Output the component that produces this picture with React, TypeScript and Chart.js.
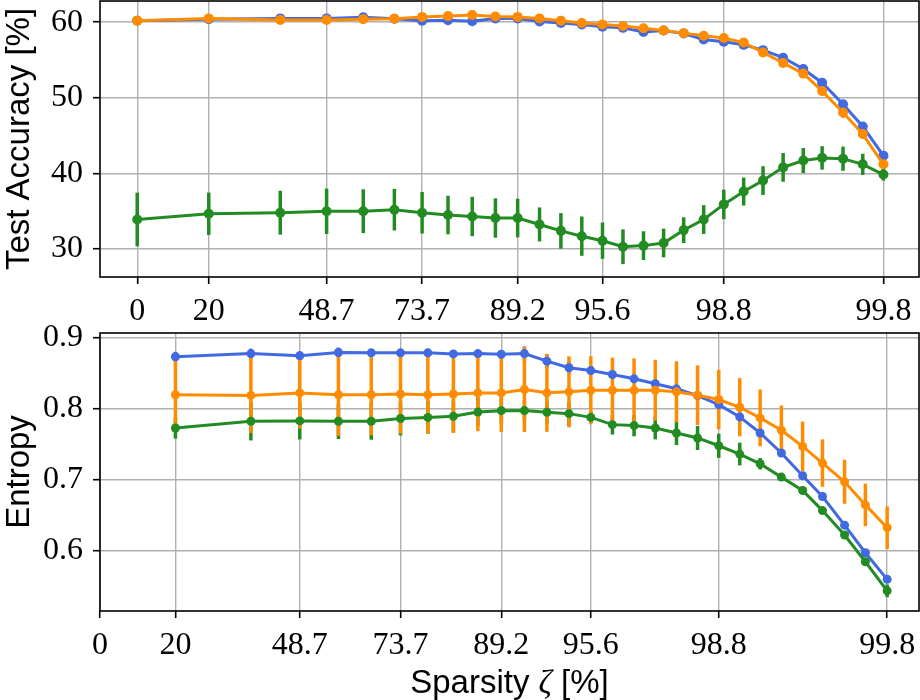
import { useEffect, useRef } from 'react';
import { Chart, registerables, LinearScale } from 'chart.js';

Chart.register(...registerables);

// sparsity after each pruning round (%), one entry per point
const sparsity = [0, 20, 36, 48.75, 59.04, 67.23, 73.75, 79.03, 83.22, 86.58, 89.25, 91.41, 93.13, 94.5, 95.6, 96.48, 97.19, 97.75, 98.2, 98.56, 98.85, 99.08, 99.26, 99.41, 99.53, 99.62, 99.7, 99.76, 99.81];
const xTickIdx = [0, 1, 3, 6, 10, 14, 20, 28];
const xTickLabels = ['0', '20', '48.7', '73.7', '89.2', '95.6', '98.8', '99.8'];

// test accuracy [%]
const accBlue = [60.2, 60.4, 60.5, 60.5, 60.66, 60.45, 60.2, 60.26, 60.13, 60.5, 60.5, 60.1, 59.9, 59.7, 59.4, 59.25, 58.7, 58.9, 58.5, 57.7, 57.4, 57.0, 56.3, 55.3, 53.8, 52.0, 49.15, 46.2, 42.35];
const accBlueErr = [0.2, 0.2, 0.2, 0.2, 0.2, 0.2, 0.2, 0.2, 0.2, 0.2, 0.2, 0.2, 0.2, 0.2, 0.2, 0.2, 0.2, 0.2, 0.2, 0.2, 0.2, 0.2, 0.2, 0.3, 0.3, 0.3, 0.3, 0.4, 0.4];
const accOrange = [60.2, 60.5, 60.3, 60.3, 60.4, 60.45, 60.7, 60.8, 60.96, 60.75, 60.7, 60.5, 60.2, 59.9, 59.7, 59.5, 59.2, 58.9, 58.55, 58.2, 57.9, 57.3, 56.0, 54.6, 53.2, 50.9, 48.05, 45.2, 41.2];
const accOrangeErr = [0.2, 0.2, 0.2, 0.2, 0.2, 0.2, 0.2, 0.2, 0.2, 0.2, 0.2, 0.2, 0.2, 0.2, 0.2, 0.2, 0.2, 0.2, 0.2, 0.3, 0.3, 0.3, 0.3, 0.4, 0.4, 0.6, 0.7, 0.6, 0.5];
const accGreen = [33.9, 34.66, 34.8, 35.0, 35.0, 35.2, 34.8, 34.5, 34.3, 34.1, 34.1, 33.25, 32.4, 31.7, 31.1, 30.3, 30.45, 30.8, 32.5, 33.9, 35.9, 37.6, 39.05, 40.8, 41.7, 42.05, 41.95, 41.2, 39.85];
const accGreenErr = [3.55, 2.8, 2.9, 3.0, 2.9, 2.75, 2.75, 2.55, 2.6, 2.6, 2.55, 2.25, 2.35, 2.6, 2.4, 2.3, 1.9, 1.9, 1.7, 1.9, 1.95, 1.85, 1.9, 1.9, 1.65, 1.55, 1.6, 1.4, 0.8];
const accTicks = [30, 40, 50, 60];

// entropy (no value for the dense model)
const entBlue = [null, 0.8735, 0.878, 0.875, 0.8795, 0.879, 0.879, 0.879, 0.8775, 0.878, 0.877, 0.878, 0.8673, 0.858, 0.854, 0.8485, 0.8424, 0.8354, 0.8283, 0.8188, 0.806, 0.7887, 0.766, 0.7378, 0.7057, 0.6764, 0.636, 0.5972, 0.5596];
const entBlueErr = [null, 0.007, 0.007, 0.006, 0.007, 0.005, 0.004, 0.004, 0.004, 0.004, 0.004, 0.01, 0.01, 0.008, 0.006, 0.005, 0.004, 0.004, 0.004, 0.004, 0.004, 0.004, 0.004, 0.004, 0.004, 0.003, 0.004, 0.004, 0.005];
const entOrange = [null, 0.82, 0.819, 0.8225, 0.82, 0.82, 0.821, 0.82, 0.821, 0.8225, 0.8225, 0.8273, 0.8226, 0.824, 0.8263, 0.8263, 0.8263, 0.8263, 0.824, 0.8193, 0.8132, 0.8023, 0.7873, 0.7698, 0.7471, 0.7236, 0.6972, 0.6646, 0.6325];
const entOrangeErr = [null, 0.05, 0.053, 0.05, 0.058, 0.057, 0.056, 0.055, 0.055, 0.054, 0.055, 0.06, 0.055, 0.05, 0.048, 0.046, 0.045, 0.043, 0.043, 0.042, 0.042, 0.041, 0.04, 0.035, 0.035, 0.0335, 0.031, 0.03, 0.03];
const entGreen = [null, 0.773, 0.7825, 0.783, 0.7825, 0.7825, 0.7865, 0.788, 0.7895, 0.7955, 0.7975, 0.7976, 0.7952, 0.7933, 0.788, 0.7778, 0.7764, 0.773, 0.766, 0.759, 0.748, 0.7363, 0.7226, 0.7038, 0.6849, 0.6566, 0.6222, 0.5845, 0.5434];
const entGreenErr = [null, 0.015, 0.027, 0.026, 0.025, 0.026, 0.024, 0.023, 0.022, 0.02, 0.018, 0.014, 0.016, 0.017, 0.008, 0.014, 0.015, 0.016, 0.017, 0.017, 0.017, 0.016, 0.008, 0.005, 0.004, 0.004, 0.004, 0.005, 0.009];
const entTicks = [0.6, 0.7, 0.8, 0.9];

const BLUE = '#4169e1';
const ORANGE = '#ff8c00';
const GREEN = '#228b22';

const xTitleParts = [
  { text: 'Sparsity ', font: '33px "Liberation Sans"' },
  { text: 'ζ', font: 'italic 33px "Liberation Serif"' },
  { text: ' [%]', font: '33px "Liberation Sans"' },
];

// the dense model (0 %) sits where 10 % would be on the logit axis
const DENSE_AT = 10;
const logit = (p: number) => {
  const q = p === 0 ? DENSE_AT : p;
  return Math.log(q / (100 - q));
};

class LogitScale extends LinearScale {
  static id = 'logit';
  static defaults = LinearScale.defaults;

  determineDataLimits() {
    this.min = this.options.min;
    this.max = this.options.max;
  }

  buildTicks() {
    return xTickIdx.map((i) => ({ value: sparsity[i] }));
  }

  getPixelForValue(value: number) {
    const a = logit(this.min);
    const b = logit(this.max);
    return this.getPixelForDecimal((logit(value) - a) / (b - a));
  }

  getValueForPixel(pixel: number) {
    const a = logit(this.min);
    const b = logit(this.max);
    const l = a + this.getDecimalForPixel(pixel) * (b - a);
    return 100 / (1 + Math.exp(-l));
  }
}
Chart.register(LogitScale);

const points = (vals: (number | null)[], errs: (number | null)[]) =>
  sparsity
    .map((s, i) => ({ x: s, y: vals[i], err: errs[i] }))
    .filter((p) => p.y !== null);

const errorBars = {
  id: 'errorBars',
  beforeDatasetsDraw(chart: any) {
    const { ctx, scales } = chart;
    ctx.save();
    ctx.lineWidth = 3.5;
    chart.data.datasets.forEach((ds: any) => {
      ctx.strokeStyle = ds.borderColor;
      ds.data.forEach((p: any) => {
        if (!p.err) return;
        const px = scales.x.getPixelForValue(p.x);
        ctx.beginPath();
        ctx.moveTo(px, scales.y.getPixelForValue(p.y - p.err));
        ctx.lineTo(px, scales.y.getPixelForValue(p.y + p.err));
        ctx.stroke();
      });
    });
    ctx.restore();
  },
};

const frame = {
  id: 'frame',
  afterDraw(chart: any) {
    const { ctx, chartArea: a } = chart;
    ctx.save();
    ctx.strokeStyle = '#000';
    ctx.lineWidth = 1.6;
    ctx.strokeRect(a.left, a.top, a.right - a.left, a.bottom - a.top);
    ctx.restore();
  },
};

const xTitle = {
  id: 'xTitle',
  afterDraw(chart: any) {
    const { ctx, chartArea: a } = chart;
    ctx.save();
    ctx.fillStyle = '#000';
    ctx.textBaseline = 'alphabetic';
    const widths = xTitleParts.map((p) => {
      ctx.font = p.font;
      return ctx.measureText(p.text).width;
    });
    let x = (a.left + a.right) / 2 - widths.reduce((s, w) => s + w, 0) / 2;
    xTitleParts.forEach((p, i) => {
      ctx.font = p.font;
      ctx.fillText(p.text, x, a.bottom + 82);
      x += widths[i];
    });
    ctx.restore();
  },
};

const tickFont = { family: '"Liberation Serif"', size: 32 };
const titleFont = { family: '"Liberation Sans"', size: 33 };

function makeOptions(o: {
  xMin: number; xMax: number; xHeight: number; padTop: number;
  yMin: number; yMax: number; yTicks: number[]; yTitle: string; yFmt: (v: number) => string;
}) {
  const grid = { color: '#b0b0b0', lineWidth: 1.4, tickColor: '#000', tickWidth: 1.6, tickLength: 7 };
  return {
    animation: false as const,
    responsive: true,
    maintainAspectRatio: false,
    layout: { autoPadding: false, padding: { top: o.padTop, right: 1, left: 0, bottom: 0 } },
    plugins: { legend: { display: false }, tooltip: { enabled: false } },
    scales: {
      x: {
        type: 'logit',
        min: o.xMin,
        max: o.xMax,
        grid,
        border: { display: false },
        ticks: { font: tickFont, color: '#000', padding: 8, maxRotation: 0, autoSkip: false,
          callback: (_v: number, i: number) => xTickLabels[i] },
        afterFit: (s: any) => {
          s.height = o.xHeight;
          s.paddingLeft = 0;
          s.paddingRight = 0;
        },
      },
      y: {
        min: o.yMin,
        max: o.yMax,
        grid,
        border: { display: false },
        ticks: { font: tickFont, color: '#000', padding: 10, callback: (v: number) => o.yFmt(v) },
        afterBuildTicks: (s: any) => { s.ticks = o.yTicks.map((v) => ({ value: v })); },
        title: { display: true, text: o.yTitle, font: titleFont, color: '#000', padding: { top: 0, bottom: 0 } },
        afterFit: (s: any) => {
          s.width = 100;
          s.paddingTop = 0;
          s.paddingBottom = 0;
        },
      },
    },
  };
}

const series = (label: string, color: string, data: any[], order: number, radius: number) => ({
  label,
  data,
  borderColor: color,
  backgroundColor: color,
  pointBackgroundColor: color,
  pointBorderWidth: 0,
  pointRadius: radius,
  borderWidth: 3,
  order,
});

export default function App() {
  const topRef = useRef<HTMLCanvasElement>(null);
  const botRef = useRef<HTMLCanvasElement>(null);

  useEffect(() => {
    if (!topRef.current || !botRef.current) return;

    const top = new Chart(topRef.current, {
      type: 'line',
      data: {
        datasets: [
          series('blue', BLUE, points(accBlue, accBlueErr), 3, 5),
          series('green', GREEN, points(accGreen, accGreenErr), 2, 5),
          series('orange', ORANGE, points(accOrange, accOrangeErr), 1, 5),
        ],
      },
      options: makeOptions({
        xMin: 6.79, xMax: 99.873, xHeight: 53, padTop: 1,
        yMin: 26.3, yMax: 62.8, yTicks: accTicks, yTitle: 'Test Accuracy [%]',
        yFmt: (v) => String(v),
      }) as any,
      plugins: [errorBars, frame],
    });

    const bot = new Chart(botRef.current, {
      type: 'line',
      data: {
        datasets: [
          series('blue', BLUE, points(entBlue, entBlueErr), 3, 4.5),
          series('green', GREEN, points(entGreen, entGreenErr), 2, 4.5),
          series('orange', ORANGE, points(entOrange, entOrangeErr), 1, 4.5),
        ],
      },
      options: makeOptions({
        xMin: 0, xMax: 99.865, xHeight: 89, padTop: 33,
        yMin: 0.515, yMax: 0.907, yTicks: entTicks, yTitle: 'Entropy',
        yFmt: (v) => v.toFixed(1),
      }) as any,
      plugins: [errorBars, frame, xTitle],
    });

    return () => {
      top.destroy();
      bot.destroy();
    };
  }, []);

  return (
    <div style={{ position: 'absolute', left: 0, top: 0, width: 920, height: 700, background: '#fff' }}>
      <div style={{ position: 'absolute', left: 0, top: 0, width: 920, height: 330 }}>
        <canvas ref={topRef} />
      </div>
      <div style={{ position: 'absolute', left: 0, top: 300, width: 920, height: 400 }}>
        <canvas ref={botRef} />
      </div>
    </div>
  );
}
